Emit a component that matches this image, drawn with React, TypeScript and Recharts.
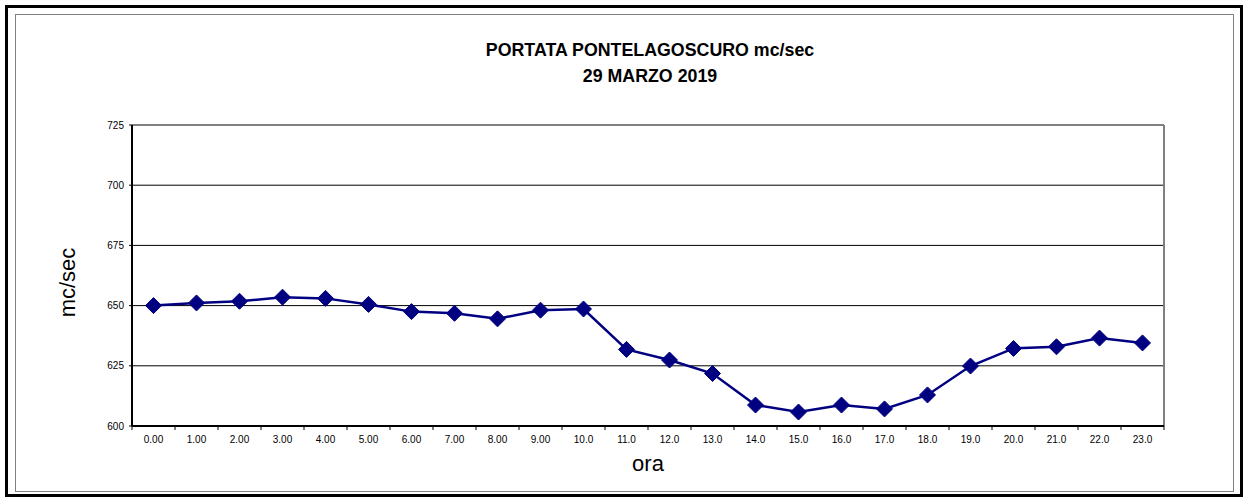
import {
  CartesianGrid,
  Line,
  LineChart,
  ReferenceLine,
  XAxis,
  YAxis,
} from "recharts";

// hours of the day (axis labels as printed)
const hourLabels = [
  "0.00", "1.00", "2.00", "3.00", "4.00", "5.00", "6.00", "7.00", "8.00", "9.00",
  "10.0", "11.0", "12.0", "13.0", "14.0", "15.0", "16.0", "17.0", "18.0", "19.0",
  "20.0", "21.0", "22.0", "23.0",
];

// portata in mc/sec
const portata = [
  650.0, 651.1, 651.8, 653.5, 653.0, 650.5, 647.5, 646.8, 644.5, 648.1,
  648.6, 631.8, 627.4, 621.8, 608.7, 605.8, 608.7, 607.1, 612.9, 624.9,
  632.2, 632.9, 636.5, 634.5,
];

const yTicks = [600, 625, 650, 675, 700, 725];
const xTicks = hourLabels.map((_, i) => i).concat(hourLabels.length);

const W = 1244;
const H = 498;
const PLOT_LEFT = 132;
const PLOT_RIGHT = 1164;
const BAND = (PLOT_RIGHT - PLOT_LEFT) / hourLabels.length;

const data = portata.map((v, i) => ({ x: i + 0.5, label: hourLabels[i], v }));

const FONT = "'Liberation Sans', Arial, sans-serif";

// eslint-disable-next-line @typescript-eslint/no-explicit-any
function HourTick({ x, y, payload }: any) {
  const label = hourLabels[payload.value];
  if (!label) return null;
  return (
    <text
      x={x + BAND / 2}
      y={y}
      dy="0.71em"
      textAnchor="middle"
      fontSize={10}
      fontFamily={FONT}
      fill="#000"
    >
      {label}
    </text>
  );
}

// eslint-disable-next-line @typescript-eslint/no-explicit-any
function YLabel({ viewBox }: any) {
  if (!viewBox) return null;
  const cx = 67;
  const cy = viewBox.y + viewBox.height / 2 + 7;
  return (
    <text
      x={cx}
      y={cy}
      transform={`rotate(-90 ${cx} ${cy})`}
      textAnchor="middle"
      dominantBaseline="central"
      fontSize={22}
      fontFamily={FONT}
      fill="#000"
    >
      mc/sec
    </text>
  );
}

// eslint-disable-next-line @typescript-eslint/no-explicit-any
function Diamond({ cx, cy }: any) {
  if (cx == null || cy == null) return null;
  const r = 8;
  return (
    <path
      d={`M${cx},${cy - r}L${cx + r},${cy}L${cx},${cy + r}L${cx - r},${cy}Z`}
      fill="#000080"
      stroke="#000080"
      strokeWidth={1}
    />
  );
}

export default function App() {
  return (
    <div
      style={{
        position: "fixed",
        left: 0,
        top: 0,
        width: W,
        height: H,
        background: "#fff",
        fontFamily: FONT,
      }}
    >
      {/* frame */}
      <div
        style={{
          position: "absolute",
          left: 5,
          top: 5,
          width: 1238 - 6,
          height: 492 - 6,
          border: "3px solid #000",
        }}
      />
      <div
        style={{
          position: "absolute",
          left: 15,
          top: 14,
          width: 1217,
          height: 476,
          border: "1px solid #808080",
        }}
      />

      <div
        style={{
          position: "absolute",
          left: 650 - 300,
          width: 600,
          top: 37,
          textAlign: "center",
          fontWeight: "bold",
          fontSize: 17.8,
          lineHeight: "26px",
          color: "#000",
        }}
      >
        PORTATA PONTELAGOSCURO mc/sec
        <br />
        29 MARZO 2019
      </div>

      <div style={{ position: "absolute", left: 0, top: 0 }}>
        <LineChart
          width={W}
          height={H}
          data={data}
          margin={{ top: 125, right: W - PLOT_RIGHT, bottom: 42, left: 72 }}
        >
          <CartesianGrid vertical={false} stroke="#000" strokeWidth={1} />
          <XAxis
            dataKey="x"
            type="number"
            domain={[0, hourLabels.length]}
            ticks={xTicks}
            interval={0}
            height={30}
            tick={<HourTick />}
            tickSize={4}
            tickMargin={6}
            tickLine={{ stroke: "#000" }}
            axisLine={{ stroke: "#000", strokeWidth: 2 }}
            label={{
              value: "ora",
              position: "insideBottom",
              offset: -15,
              style: { fontSize: 22, fill: "#000", fontFamily: FONT },
            }}
          />
          <YAxis
            type="number"
            domain={[600, 725]}
            ticks={yTicks}
            interval={0}
            width={60}
            tickSize={3}
            tickMargin={5}
            tick={{ fontSize: 10, fill: "#000", fontFamily: FONT }}
            tickLine={{ stroke: "#000" }}
            axisLine={{ stroke: "#000", strokeWidth: 2 }}
            label={<YLabel />}
          />
          <ReferenceLine y={725} stroke="#808080" strokeWidth={2} />
          <ReferenceLine x={hourLabels.length} stroke="#808080" strokeWidth={2} />
          <Line
            type="linear"
            dataKey="v"
            stroke="#000080"
            strokeWidth={2.5}
            dot={<Diamond />}
            activeDot={false}
            isAnimationActive={false}
          />
        </LineChart>
      </div>
    </div>
  );
}
